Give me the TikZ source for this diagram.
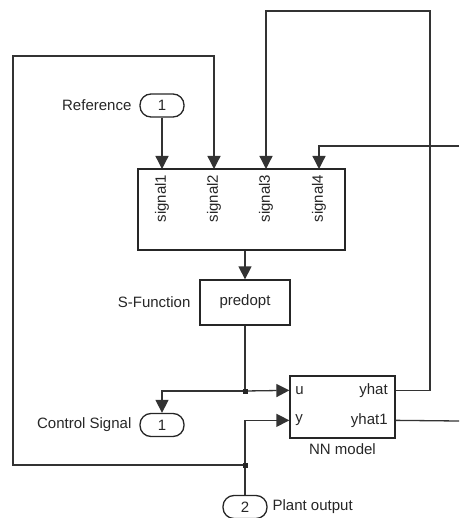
\documentclass[tikz,border=0pt]{standalone}
\usepackage{fontspec}
\setmainfont{Liberation Sans}
\usetikzlibrary{arrows.meta,calc,positioning}
\tikzset{
  line cap=butt,
  line join=miter,
  every picture/.style={line width=1.3pt},
  blk/.style={draw=black!85, minimum width=#1, inner sep=0pt},
  port/.style={draw=black!85, rounded corners=11pt, minimum width=44pt, minimum height=23pt, inner sep=0pt},
  sig/.style={draw=black!80, -{Triangle[width=13pt,length=13pt]}},
  wire/.style={draw=black!80},
  dot/.style={fill=black!85, inner sep=0pt, minimum size=5pt},
  txt/.style={text=black!85, font=\fontsize{15}{17}\selectfont}
}

\begin{document}
\begin{tikzpicture}[x=1pt,y=-1pt,txt]
\useasboundingbox (0,0) rectangle (459,518);

% blocks
\node[blk=207pt, minimum height=81pt] (mux) at (241.5,209.5) {};
\node[blk=90pt, minimum height=45pt] (sf) at (245,302.5) {};
\node[blk=105pt, minimum height=62pt] (nn) at (342.5,407) {};
\node[anchor=north] at (sf.north) [yshift=-11pt] {predopt};

% ports
\node[port] (ref) at (162,105.5) {1};
\node[left=4pt of ref] {Reference};
\node[port] (cs) at (162,425) {1};
\node[left=4pt of cs] {Control Signal};
\node[port] (po) at (245,507) {2};
\node[right=1pt of po] {Plant output};

% labels
\node[left=5pt of sf] {S-Function};
\node[below=1pt of nn] {NN model};
\node[anchor=west] at ($(nn.north west)+(2,15)$) {u};
\node[anchor=west] at ($(nn.north west)+(2,45)$) {y};
\node[anchor=east] at ($(nn.north east)+(-4,15)$) {yhat};
\node[anchor=east] at ($(nn.north east)+(-4,45)$) {yhat1};
\foreach \i/\x in {1/162,2/214,3/266,4/319}
  \node[rotate=90, anchor=east, inner sep=1pt] at (\x,173) {signal\i};

% helper points
\coordinate (s1) at (162,169);
\coordinate (s2) at (214,169);
\coordinate (s3) at (266,169);
\coordinate (s4) at (319,169);
\coordinate (lt) at (13,56);
\coordinate (rt) at (430,11);
\coordinate (redge) at (459,146);
\coordinate (yout) at (459,421);
\coordinate (j1) at (245,391);
\coordinate (j2) at (245,465);
\coordinate (nnu) at ($(nn.north west)+(0,15)$);
\coordinate (nny) at ($(nn.north west)+(0,45)$);
\coordinate (nnyh) at ($(nn.north east)+(0,15)$);
\coordinate (nnyh1) at ($(nn.north east)+(0,45)$);

% connectors
\draw[sig] (ref.south) -- (s1);
\draw[sig] (j2) -| (lt) -| (s2);
\draw[sig] (nnyh) -| (rt) -| (s3);
\draw[sig] (redge) -| (s4);
\draw[wire] (nnyh1) -- (yout);
\draw[sig] (sf.north |- mux.south) -- (sf.north);
\draw[wire] (sf.south) -- (j1);
\draw[sig] (j1) -- (nnu);
\draw[sig] (j1) -| (cs.north);
\draw[sig] (po.north) |- (nny);
\node[dot] at (j1) {};
\node[dot] at (j2) {};

\end{tikzpicture}
\end{document}
